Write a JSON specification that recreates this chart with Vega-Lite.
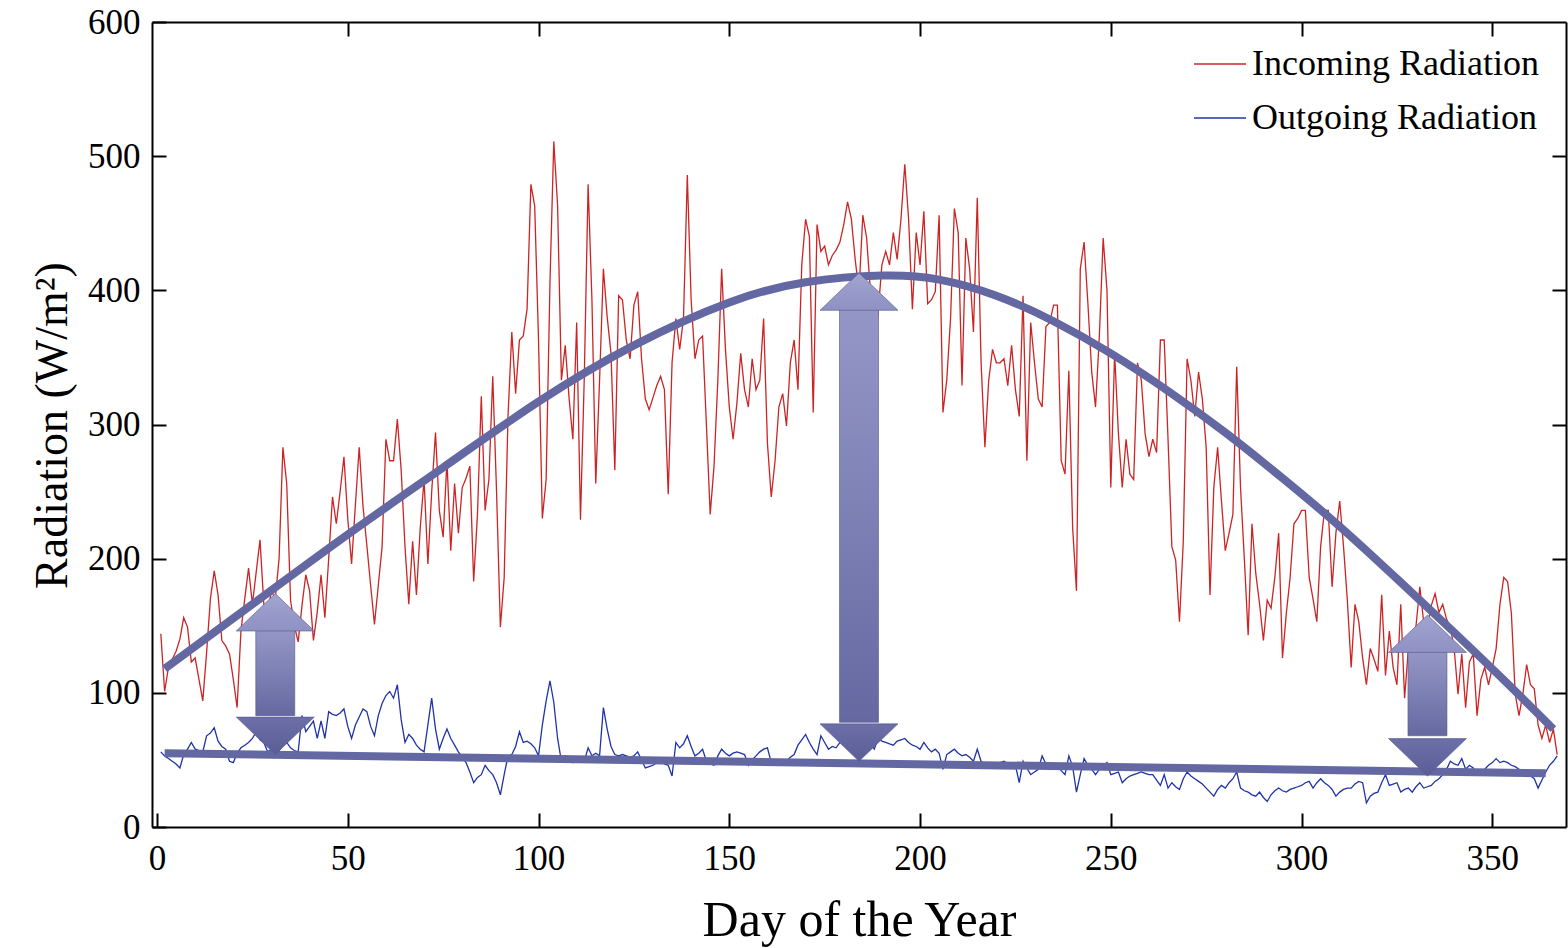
{
"$schema":"https://vega.github.io/schema/vega-lite/v6.json",
"width":1414,"height":805,
"autosize":{"type":"none"},
"padding":{"left":152,"top":22,"right":2,"bottom":121},
"background":"white",
"config":{
"view":{"stroke":null},
"font":"Liberation Serif",
"axis":{"domainColor":"black","domainWidth":2,"tickColor":"black","tickWidth":2,"tickSize":-14,"grid":false,"labelFont":"Liberation Serif","labelFontSize":35,"labelColor":"black","titleFont":"Liberation Serif","titleFontWeight":"normal","titleColor":"black","labelFlush":false,"labelOverlap":false}
},
"datasets":{
"arrows":[
{"d":31,"lo":54,"b1":83,"b2":147,"hi":174},
{"d":184,"lo":49,"b1":78,"b2":386,"hi":413},
{"d":333,"lo":38,"b1":68,"b2":131,"hi":158}
],
"fit":[
{"d":2,"v":118,"c":"a"},{"d":25,"v":166,"c":"a"},{"d":50,"v":218,"c":"a"},{"d":75,"v":268,"c":"a"},{"d":100,"v":317,"c":"a"},{"d":125,"v":359,"c":"a"},{"d":150,"v":391,"c":"a"},{"d":170,"v":406,"c":"a"},{"d":190,"v":411,"c":"a"},{"d":205,"v":408,"c":"a"},{"d":220,"v":396,"c":"a"},{"d":235,"v":377,"c":"a"},{"d":250,"v":353,"c":"a"},{"d":265,"v":325,"c":"a"},{"d":280,"v":294,"c":"a"},{"d":295,"v":260,"c":"a"},{"d":310,"v":224,"c":"a"},{"d":325,"v":185,"c":"a"},{"d":340,"v":145,"c":"a"},{"d":355,"v":104,"c":"a"},{"d":366,"v":73,"c":"a"},
{"d":2,"v":55,"c":"b"},{"d":364,"v":40,"c":"b"}
]
},
"resolve":{"axis":{"x":"independent","y":"independent"}},
"layer":[
{
"data":{"values":[
{"d":1,"i":144,"o":56},{"d":2,"i":101,"o":53},{"d":3,"i":119,"o":51},{"d":4,"i":125,"o":49},{"d":5,"i":131,"o":47},{"d":6,"i":140,"o":44},{"d":7,"i":156,"o":54},{"d":8,"i":149,"o":58},{"d":9,"i":123,"o":63},{"d":10,"i":126,"o":58},
{"d":11,"i":110,"o":57},{"d":12,"i":94,"o":56},{"d":13,"i":130,"o":68},{"d":14,"i":170,"o":70},{"d":15,"i":191,"o":74},{"d":16,"i":173,"o":64},{"d":17,"i":139,"o":60},{"d":18,"i":135,"o":58},{"d":19,"i":129,"o":49},{"d":20,"i":110,"o":48},
{"d":21,"i":89,"o":55},{"d":22,"i":146,"o":59},{"d":23,"i":170,"o":61},{"d":24,"i":193,"o":63},{"d":25,"i":166,"o":66},{"d":26,"i":190,"o":71},{"d":27,"i":214,"o":65},{"d":28,"i":166,"o":63},{"d":29,"i":160,"o":56},{"d":30,"i":176,"o":58},
{"d":31,"i":170,"o":60},{"d":32,"i":200,"o":57},{"d":33,"i":283,"o":61},{"d":34,"i":256,"o":63},{"d":35,"i":169,"o":59},{"d":36,"i":150,"o":57},{"d":37,"i":138,"o":56},{"d":38,"i":165,"o":83},{"d":39,"i":188,"o":71},{"d":40,"i":176,"o":75},
{"d":41,"i":139,"o":79},{"d":42,"i":160,"o":66},{"d":43,"i":188,"o":79},{"d":44,"i":156,"o":66},{"d":45,"i":200,"o":86},{"d":46,"i":246,"o":84},{"d":47,"i":226,"o":83},{"d":48,"i":250,"o":85},{"d":49,"i":276,"o":88},{"d":50,"i":230,"o":75},
{"d":51,"i":196,"o":66},{"d":52,"i":240,"o":76},{"d":53,"i":283,"o":82},{"d":54,"i":239,"o":88},{"d":55,"i":210,"o":86},{"d":56,"i":180,"o":75},{"d":57,"i":151,"o":68},{"d":58,"i":180,"o":83},{"d":59,"i":209,"o":92},{"d":60,"i":289,"o":98},
{"d":61,"i":273,"o":101},{"d":62,"i":273,"o":96},{"d":63,"i":304,"o":106},{"d":64,"i":266,"o":80},{"d":65,"i":209,"o":63},{"d":66,"i":166,"o":69},{"d":67,"i":213,"o":66},{"d":68,"i":173,"o":61},{"d":69,"i":223,"o":58},{"d":70,"i":259,"o":56},
{"d":71,"i":196,"o":76},{"d":72,"i":250,"o":96},{"d":73,"i":294,"o":73},{"d":74,"i":236,"o":58},{"d":75,"i":216,"o":66},{"d":76,"i":273,"o":73},{"d":77,"i":206,"o":66},{"d":78,"i":256,"o":61},{"d":79,"i":219,"o":56},{"d":80,"i":253,"o":52},
{"d":81,"i":260,"o":48},{"d":82,"i":269,"o":41},{"d":83,"i":183,"o":33},{"d":84,"i":233,"o":37},{"d":85,"i":321,"o":39},{"d":86,"i":236,"o":46},{"d":87,"i":259,"o":42},{"d":88,"i":336,"o":39},{"d":89,"i":250,"o":33},{"d":90,"i":149,"o":24},
{"d":91,"i":186,"o":39},{"d":92,"i":306,"o":53},{"d":93,"i":369,"o":54},{"d":94,"i":323,"o":60},{"d":95,"i":363,"o":71},{"d":96,"i":366,"o":63},{"d":97,"i":386,"o":64},{"d":98,"i":479,"o":62},{"d":99,"i":463,"o":59},{"d":100,"i":363,"o":53},
{"d":101,"i":230,"o":76},{"d":102,"i":259,"o":94},{"d":103,"i":406,"o":109},{"d":104,"i":511,"o":93},{"d":105,"i":463,"o":66},{"d":106,"i":333,"o":49},{"d":107,"i":359,"o":53},{"d":108,"i":320,"o":50},{"d":109,"i":289,"o":48},{"d":110,"i":376,"o":51},
{"d":111,"i":229,"o":50},{"d":112,"i":336,"o":49},{"d":113,"i":479,"o":59},{"d":114,"i":393,"o":53},{"d":115,"i":256,"o":55},{"d":116,"i":333,"o":53},{"d":117,"i":416,"o":89},{"d":118,"i":380,"o":73},{"d":119,"i":353,"o":60},{"d":120,"i":266,"o":54},
{"d":121,"i":396,"o":53},{"d":122,"i":393,"o":54},{"d":123,"i":363,"o":53},{"d":124,"i":349,"o":52},{"d":125,"i":389,"o":53},{"d":126,"i":399,"o":56},{"d":127,"i":349,"o":50},{"d":128,"i":319,"o":44},{"d":129,"i":311,"o":45},{"d":130,"i":320,"o":46},
{"d":131,"i":329,"o":48},{"d":132,"i":336,"o":49},{"d":133,"i":326,"o":47},{"d":134,"i":248,"o":46},{"d":135,"i":346,"o":38},{"d":136,"i":379,"o":63},{"d":137,"i":356,"o":59},{"d":138,"i":379,"o":62},{"d":139,"i":486,"o":68},{"d":140,"i":393,"o":60},
{"d":141,"i":349,"o":53},{"d":142,"i":363,"o":55},{"d":143,"i":366,"o":58},{"d":144,"i":300,"o":49},{"d":145,"i":233,"o":47},{"d":146,"i":269,"o":46},{"d":147,"i":333,"o":53},{"d":148,"i":416,"o":58},{"d":149,"i":356,"o":55},{"d":150,"i":313,"o":53},
{"d":151,"i":289,"o":55},{"d":152,"i":316,"o":56},{"d":153,"i":353,"o":55},{"d":154,"i":326,"o":54},{"d":155,"i":313,"o":46},{"d":156,"i":349,"o":50},{"d":157,"i":326,"o":53},{"d":158,"i":333,"o":56},{"d":159,"i":379,"o":58},{"d":160,"i":286,"o":59},
{"d":161,"i":246,"o":48},{"d":162,"i":273,"o":47},{"d":163,"i":313,"o":46},{"d":164,"i":323,"o":48},{"d":165,"i":299,"o":49},{"d":166,"i":346,"o":52},{"d":167,"i":363,"o":54},{"d":168,"i":326,"o":61},{"d":169,"i":419,"o":65},{"d":170,"i":453,"o":69},
{"d":171,"i":440,"o":63},{"d":172,"i":309,"o":58},{"d":173,"i":449,"o":54},{"d":174,"i":429,"o":68},{"d":175,"i":433,"o":63},{"d":176,"i":419,"o":58},{"d":177,"i":426,"o":60},{"d":178,"i":430,"o":59},{"d":179,"i":436,"o":63},{"d":180,"i":449,"o":66},
{"d":181,"i":466,"o":68},{"d":182,"i":453,"o":70},{"d":183,"i":423,"o":67},{"d":184,"i":399,"o":64},{"d":185,"i":456,"o":68},{"d":186,"i":439,"o":65},{"d":187,"i":399,"o":62},{"d":188,"i":346,"o":58},{"d":189,"i":383,"o":66},{"d":190,"i":419,"o":64},
{"d":191,"i":429,"o":63},{"d":192,"i":419,"o":62},{"d":193,"i":443,"o":61},{"d":194,"i":423,"o":64},{"d":195,"i":453,"o":65},{"d":196,"i":494,"o":66},{"d":197,"i":453,"o":63},{"d":198,"i":386,"o":61},{"d":199,"i":443,"o":60},{"d":200,"i":419,"o":58},
{"d":201,"i":459,"o":63},{"d":202,"i":390,"o":59},{"d":203,"i":393,"o":56},{"d":204,"i":399,"o":58},{"d":205,"i":456,"o":55},{"d":206,"i":309,"o":43},{"d":207,"i":333,"o":54},{"d":208,"i":379,"o":56},{"d":209,"i":461,"o":58},{"d":210,"i":443,"o":55},
{"d":211,"i":329,"o":53},{"d":212,"i":439,"o":54},{"d":213,"i":416,"o":52},{"d":214,"i":369,"o":49},{"d":215,"i":469,"o":58},{"d":216,"i":346,"o":49},{"d":217,"i":283,"o":47},{"d":218,"i":333,"o":46},{"d":219,"i":356,"o":47},{"d":220,"i":346,"o":48},
{"d":221,"i":346,"o":48},{"d":222,"i":349,"o":49},{"d":223,"i":329,"o":47},{"d":224,"i":359,"o":46},{"d":225,"i":326,"o":46},{"d":226,"i":306,"o":33},{"d":227,"i":396,"o":49},{"d":228,"i":273,"o":44},{"d":229,"i":376,"o":39},{"d":230,"i":346,"o":41},
{"d":231,"i":319,"o":43},{"d":232,"i":313,"o":53},{"d":233,"i":373,"o":47},{"d":234,"i":376,"o":43},{"d":235,"i":389,"o":45},{"d":236,"i":389,"o":46},{"d":237,"i":273,"o":42},{"d":238,"i":263,"o":39},{"d":239,"i":340,"o":53},{"d":240,"i":223,"o":45},
{"d":241,"i":176,"o":26},{"d":242,"i":416,"o":39},{"d":243,"i":436,"o":51},{"d":244,"i":390,"o":46},{"d":245,"i":339,"o":43},{"d":246,"i":313,"o":39},{"d":247,"i":366,"o":43},{"d":248,"i":439,"o":46},{"d":249,"i":400,"o":48},{"d":250,"i":253,"o":39},
{"d":251,"i":353,"o":40},{"d":252,"i":293,"o":41},{"d":253,"i":253,"o":33},{"d":254,"i":289,"o":36},{"d":255,"i":263,"o":38},{"d":256,"i":259,"o":39},{"d":257,"i":346,"o":40},{"d":258,"i":333,"o":41},{"d":259,"i":293,"o":40},{"d":260,"i":276,"o":39},
{"d":261,"i":289,"o":39},{"d":262,"i":279,"o":35},{"d":263,"i":363,"o":31},{"d":264,"i":363,"o":39},{"d":265,"i":289,"o":29},{"d":266,"i":209,"o":33},{"d":267,"i":199,"o":30},{"d":268,"i":153,"o":28},{"d":269,"i":213,"o":36},{"d":270,"i":349,"o":41},
{"d":271,"i":333,"o":38},{"d":272,"i":306,"o":36},{"d":273,"i":339,"o":34},{"d":274,"i":319,"o":32},{"d":275,"i":283,"o":29},{"d":276,"i":173,"o":26},{"d":277,"i":253,"o":23},{"d":278,"i":283,"o":28},{"d":279,"i":243,"o":31},{"d":280,"i":206,"o":29},
{"d":281,"i":219,"o":33},{"d":282,"i":233,"o":36},{"d":283,"i":343,"o":41},{"d":284,"i":253,"o":29},{"d":285,"i":200,"o":27},{"d":286,"i":143,"o":26},{"d":287,"i":226,"o":24},{"d":288,"i":189,"o":23},{"d":289,"i":166,"o":26},{"d":290,"i":139,"o":22},
{"d":291,"i":169,"o":19},{"d":292,"i":163,"o":24},{"d":293,"i":186,"o":27},{"d":294,"i":219,"o":29},{"d":295,"i":126,"o":27},{"d":296,"i":159,"o":26},{"d":297,"i":186,"o":28},{"d":298,"i":226,"o":29},{"d":299,"i":230,"o":30},{"d":300,"i":236,"o":31},
{"d":301,"i":236,"o":33},{"d":302,"i":186,"o":34},{"d":303,"i":170,"o":29},{"d":304,"i":153,"o":33},{"d":305,"i":209,"o":36},{"d":306,"i":236,"o":33},{"d":307,"i":236,"o":31},{"d":308,"i":179,"o":28},{"d":309,"i":219,"o":23},{"d":310,"i":243,"o":26},
{"d":311,"i":209,"o":28},{"d":312,"i":169,"o":29},{"d":313,"i":119,"o":29},{"d":314,"i":166,"o":32},{"d":315,"i":153,"o":34},{"d":316,"i":126,"o":33},{"d":317,"i":106,"o":18},{"d":318,"i":133,"o":23},{"d":319,"i":125,"o":25},{"d":320,"i":116,"o":26},
{"d":321,"i":173,"o":33},{"d":322,"i":113,"o":39},{"d":323,"i":146,"o":31},{"d":324,"i":119,"o":32},{"d":325,"i":106,"o":33},{"d":326,"i":166,"o":26},{"d":327,"i":96,"o":28},{"d":328,"i":133,"o":29},{"d":329,"i":136,"o":26},{"d":330,"i":150,"o":30},
{"d":331,"i":179,"o":33},{"d":332,"i":153,"o":29},{"d":333,"i":150,"o":30},{"d":334,"i":165,"o":31},{"d":335,"i":174,"o":34},{"d":336,"i":160,"o":36},{"d":337,"i":166,"o":39},{"d":338,"i":155,"o":43},{"d":339,"i":149,"o":49},{"d":340,"i":133,"o":47},
{"d":341,"i":99,"o":46},{"d":342,"i":129,"o":51},{"d":343,"i":89,"o":43},{"d":344,"i":123,"o":46},{"d":345,"i":129,"o":44},{"d":346,"i":83,"o":39},{"d":347,"i":110,"o":41},{"d":348,"i":119,"o":43},{"d":349,"i":106,"o":46},{"d":350,"i":119,"o":48},
{"d":351,"i":133,"o":51},{"d":352,"i":166,"o":48},{"d":353,"i":186,"o":49},{"d":354,"i":183,"o":48},{"d":355,"i":159,"o":46},{"d":356,"i":99,"o":45},{"d":357,"i":83,"o":43},{"d":358,"i":99,"o":41},{"d":359,"i":121,"o":39},{"d":360,"i":106,"o":38},
{"d":361,"i":103,"o":36},{"d":362,"i":76,"o":29},{"d":363,"i":66,"o":35},{"d":364,"i":76,"o":41},{"d":365,"i":63,"o":46},{"d":366,"i":73,"o":49},{"d":367,"i":54,"o":53}
]},
"transform":[{"fold":["i","o"],"as":["s","v"]}],
"mark":{"type":"line","strokeWidth":1.3},
"encoding":{
"x":{"field":"d","type":"quantitative","scale":{"domain":[0,368],"nice":false,"zero":false},"axis":{"orient":"bottom","values":[0,50,100,150,200,250,300,350],"labelPadding":28,"labelFlush":false,"labelBound":false,"title":"Day of the Year","titleFontSize":50,"titleX":707,"titleY":108,"titleBaseline":"alphabetic","titleAlign":"center"}},
"y":{"field":"v","type":"quantitative","scale":{"domain":[0,600],"nice":false},"axis":{"orient":"left","values":[0,100,200,300,400,500,600],"labelPadding":26,"labelFlush":false,"title":"Radiation (W/m²)","titleFontSize":46,"titleX":-100,"titleY":403,"titleAngle":270,"titleBaseline":"middle","titleAlign":"center"}},
"color":{"field":"s","type":"nominal","scale":{"domain":["i","o"],"range":["#CC2424","#1F33A8"]},"legend":{"orient":"none","legendX":1041,"legendY":15,"title":null,"symbolType":"stroke","symbolSize":2704,"symbolStrokeWidth":1.5,"labelFont":"Liberation Serif","labelFontSize":36,"labelColor":"black","labelOffset":5,"rowPadding":9,"padding":0,"labelLimit":500,"labelExpr":"datum.label == 'i' ? 'Incoming Radiation' : 'Outgoing Radiation'"}}
}
},
{
"data":{"name":"fit"},
"mark":{"type":"line","color":"#6468A2","strokeWidth":8,"interpolate":"natural"},
"encoding":{
"x":{"field":"d","type":"quantitative","scale":{"domain":[0,368],"nice":false,"zero":false},"axis":null},
"y":{"field":"v","type":"quantitative","scale":{"domain":[0,600],"nice":false},"axis":null},
"detail":{"field":"c"}
}
},
{
"data":{"name":"arrows"},
"mark":{"type":"bar","orient":"vertical","size":39,"fill":{"gradient":"linear","x1":0,"y1":0,"x2":0,"y2":1,"stops":[{"offset":0,"color":"#9497C6"},{"offset":1,"color":"#6669A1"}]},"stroke":"#55588E","strokeWidth":1,"strokeOpacity":0.6},
"encoding":{
"x":{"field":"d","type":"quantitative","scale":{"domain":[0,368],"nice":false,"zero":false},"axis":null},
"y":{"field":"b1","type":"quantitative","scale":{"domain":[0,600],"nice":false},"axis":null},
"y2":{"field":"b2"}
}
},
{
"data":{"name":"arrows"},
"mark":{"type":"point","shape":"M0,0L1,0.96L-1,0.96Z","size":6084,"filled":true,"opacity":1,"fill":{"gradient":"linear","x1":0,"y1":0,"x2":0,"y2":1,"stops":[{"offset":0,"color":"#A2A4D0"},{"offset":1,"color":"#8E91C2"}]},"stroke":"#55588E","strokeWidth":1,"strokeOpacity":0.6},
"encoding":{
"x":{"field":"d","type":"quantitative","scale":{"domain":[0,368],"nice":false,"zero":false},"axis":null},
"y":{"field":"hi","type":"quantitative","scale":{"domain":[0,600],"nice":false},"axis":null}
}
},
{
"data":{"name":"arrows"},
"mark":{"type":"point","shape":"M0,0L1,-0.96L-1,-0.96Z","size":6084,"filled":true,"opacity":1,"fill":{"gradient":"linear","x1":0,"y1":0,"x2":0,"y2":1,"stops":[{"offset":0,"color":"#6D70A8"},{"offset":1,"color":"#5B5E96"}]},"stroke":"#55588E","strokeWidth":1,"strokeOpacity":0.6},
"encoding":{
"x":{"field":"d","type":"quantitative","scale":{"domain":[0,368],"nice":false,"zero":false},"axis":null},
"y":{"field":"lo","type":"quantitative","scale":{"domain":[0,600],"nice":false},"axis":null}
}
},
{
"data":{"name":"arrows"},
"mark":{"type":"point","opacity":0},
"encoding":{
"x":{"field":"d","type":"quantitative","scale":{"domain":[0,368],"nice":false,"zero":false},"axis":{"orient":"top","values":[50,100,150,200,250,300,350],"labels":false,"title":null}},
"y":{"field":"lo","type":"quantitative","scale":{"domain":[0,600],"nice":false},"axis":{"orient":"right","values":[100,200,300,400,500],"labels":false,"title":null}}
}
}
]
}
